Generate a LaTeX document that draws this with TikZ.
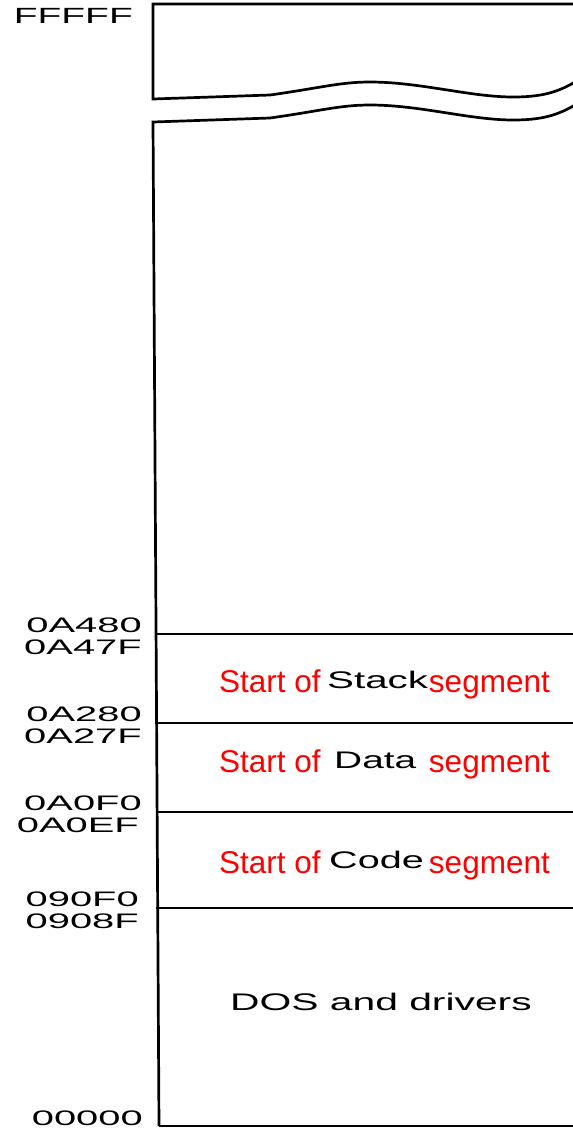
\documentclass[tikz,border=0pt]{standalone}
\usepackage{fontspec}
\setmainfont{Liberation Sans}
\newcommand{\widetext}[2]{\scalebox{#1}[1]{#2}}

\begin{document}
\begin{tikzpicture}[x=1pt,y=-1pt]
		\tikzstyle{addr}=[anchor=base east, inner sep=0pt, font=\fontsize{21}{21}\selectfont];
		\tikzstyle{redtxt}=[text=red, inner sep=0pt, font=\fontsize{31.5}{31.5}\selectfont];
		\tikzstyle{blacktxt}=[anchor=base west, inner sep=0pt, font=\fontsize{24}{24}\selectfont];
		\tikzstyle{border}=[line width=2.7pt];
		\tikzstyle{divider}=[line width=2pt];

		\clip (0,0) rectangle (573,1128);

		% top piece with the break
		\draw[border] (590,4) -- (153,4) -- (153,99) -- (270,95)
			.. controls (320,88) and (340,82) .. (370,82)
			.. controls (420,82) and (470,97) .. (513,97)
			.. controls (548,97) and (565,90) .. (590,72);
		\draw[border] (159,1126) -- (153,122) -- (270,118)
			.. controls (320,111) and (340,105) .. (370,105)
			.. controls (420,105) and (470,120) .. (513,120)
			.. controls (548,120) and (565,113) .. (590,95);
		\draw[border] (159,1126) -- (590,1126);

		% segment boundaries
		\draw[divider] (155,634) -- (590,634);
		\draw[divider] (155,723) -- (590,723);
		\draw[divider] (156,812) -- (590,812);
		\draw[divider] (156,908) -- (590,908);

		% addresses
		\node[addr, font=\fontsize{22}{22}\selectfont] (FFFFF) at (133,23) {\widetext{1.77}{FFFFF}};
		\node[addr] (A480) at (142,632) {\widetext{1.9}{0A480}};
		\node[addr] (A47F) at (142,654) {\widetext{1.9}{0A47F}};
		\node[addr] (A280) at (142,721) {\widetext{1.9}{0A280}};
		\node[addr] (A27F) at (142,743) {\widetext{1.9}{0A27F}};
		\node[addr] (A0F0) at (142,810) {\widetext{1.9}{0A0F0}};
		\node[addr] (A0EF) at (139,832) {\widetext{1.9}{0A0EF}};
		\node[addr] (90F0) at (139,906) {\widetext{1.9}{090F0}};
		\node[addr] (908F) at (139,928) {\widetext{1.9}{0908F}};
		\node[addr] (00000) at (143,1125) {\widetext{1.9}{00000}};

		% segment labels
		\node[redtxt, anchor=base west] (stackA) at (219,692) {Start of};
		\node[blacktxt] (stackB) at (327,688) {\widetext{1.68}{Stack}};
		\node[redtxt, anchor=base east] (stackC) at (550,692) {segment};

		\node[redtxt, anchor=base west] (dataA) at (219,772) {Start of};
		\node[blacktxt] (dataB) at (334,768) {\widetext{1.62}{Data}};
		\node[redtxt, anchor=base east] (dataC) at (550,772) {segment};

		\node[redtxt, anchor=base west] (codeA) at (219,873) {Start of};
		\node[blacktxt] (codeB) at (329,868) {\widetext{1.65}{Code}};
		\node[redtxt, anchor=base east] (codeC) at (550,873) {segment};

		\node[blacktxt] (dos) at (230,1010) {\widetext{1.7}{DOS and drivers}};
        \end{tikzpicture}
\end{document}
